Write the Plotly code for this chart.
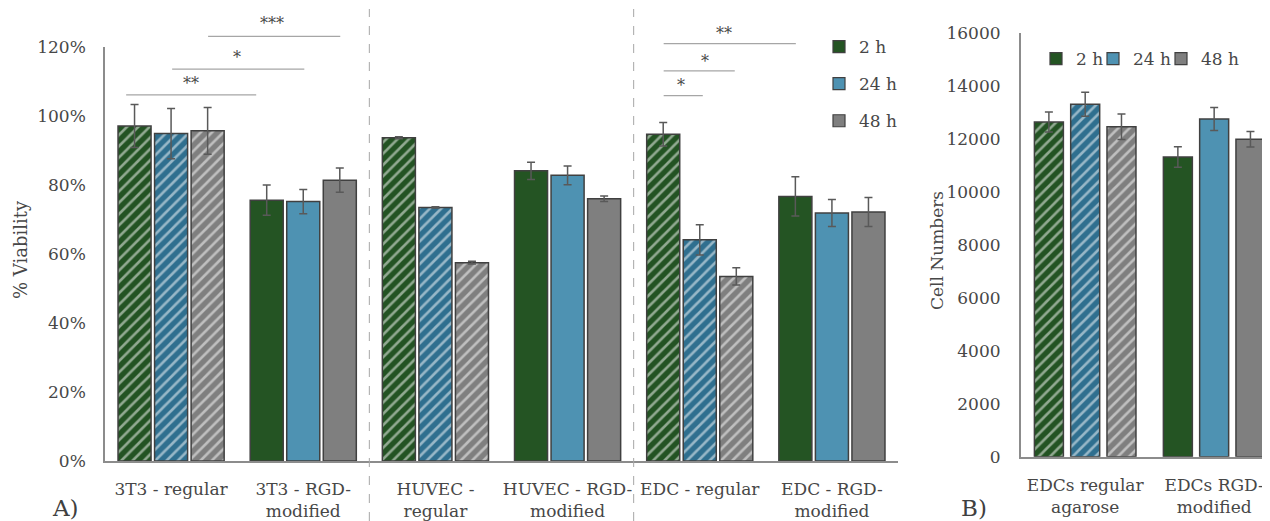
import plotly.graph_objects as go

# ---------------- data ----------------
series = ["2 h", "24 h", "48 h"]

categories_a = ["3T3 - regular", "3T3 - RGD-<br>modified", "HUVEC -<br>regular",
                "HUVEC - RGD-<br>modified", "EDC - regular", "EDC - RGD-<br>modified"]
viab_2h = [0.971, 0.756, 0.937, 0.841, 0.947, 0.767]
viab_24h = [0.949, 0.752, 0.735, 0.828, 0.641, 0.719]
viab_48h = [0.957, 0.814, 0.575, 0.760, 0.535, 0.722]
viab_err_2h = [0.062, 0.044, 0.003, 0.025, 0.034, 0.057]
viab_err_24h = [0.073, 0.035, 0.002, 0.027, 0.044, 0.039]
viab_err_48h = [0.068, 0.035, 0.004, 0.008, 0.025, 0.042]
hatched_a = [True, False, True, False, True, False]

categories_b = ["EDCs regular<br>agarose", "EDCs RGD-<br>modified"]
cells_2h = [12650, 11325]
cells_24h = [13320, 12760]
cells_48h = [12470, 11995]
cells_err_2h = [380, 390]
cells_err_24h = [450, 435]
cells_err_48h = [485, 290]
hatched_b = [True, False]

# significance brackets (x from, x to, line level, text level, text x, label)
sig_3t3 = [(-0.34, 0.644, 1.061, 1.095, 0.149, "**"),
           (0.008, 1.008, 1.136, 1.170, 0.50, "*"),
           (0.28, 1.28, 1.231, 1.269, 0.765, "***")]
sig_edc = [(3.727, 4.727, 1.2096, 1.238, 4.18, "**"),
           (3.727, 4.265, 1.131, 1.157, 4.04, "*"),
           (3.727, 4.023, 1.059, 1.087, 3.86, "*")]

# ---------------- style ----------------
FONT = "DejaVu Serif"
TXT = "#474747"
solid = ["#245423", "#4e92b2", "#7f7f7f"]
hatch_bg = ["#235323", "#2f6f8f", "#7f7f7f"]
hatch_fg = ["#478637", "#4a94b6", "#a5a5a5"]
OUTLINE = "#404040"

# the page places the figure 8 px from the top-left corner
OFF = 8
W, H = 1270 - OFF, 521 - OFF
def px_x(p):
    return (p - OFF) / W
def px_y(p):
    return (521 - p) / H

xa_dom = [px_x(105), px_x(898)]
ya_dom = [px_y(461), px_y(47)]
xb_dom = [px_x(1020.7), 1.0]
yb_dom = [px_y(456.7), px_y(33.3)]

def viab_paper(v):
    return ya_dom[0] + v / 1.2 * (ya_dom[1] - ya_dom[0])

fig = go.Figure()

vals_a = [viab_2h, viab_24h, viab_48h]
errs_a = [viab_err_2h, viab_err_24h, viab_err_48h]
vals_b = [cells_2h, cells_24h, cells_48h]
errs_b = [cells_err_2h, cells_err_24h, cells_err_48h]

wa, slot_a = 0.25, 0.2765
wb, slot_b = 0.2248, 0.2814

for i, name in enumerate(series):
    fig.add_trace(go.Bar(
        x=categories_a, y=vals_a[i], name=name, showlegend=False,
        width=wa, offset=(i - 1) * slot_a - wa / 2,
        xaxis="x", yaxis="y",
        error_y=dict(type="data", array=errs_a[i], color="#595959", thickness=1.5, width=4),
        marker=dict(
            color=[hatch_bg[i] if h else solid[i] for h in hatched_a],
            line=dict(color=OUTLINE, width=1.5),
            pattern=dict(shape=["/" if h else "" for h in hatched_a],
                         fgcolor=hatch_fg[i], size=8, solidity=0.33),
        ),
    ))
    fig.add_trace(go.Bar(
        x=categories_b, y=vals_b[i], name=name, showlegend=False,
        width=wb, offset=(i - 1) * slot_b - wb / 2,
        xaxis="x2", yaxis="y2",
        error_y=dict(type="data", array=errs_b[i], color="#595959", thickness=1.5, width=4),
        marker=dict(
            color=[hatch_bg[i] if h else solid[i] for h in hatched_b],
            line=dict(color=OUTLINE, width=1.5),
            pattern=dict(shape=["/" if h else "" for h in hatched_b],
                         fgcolor=hatch_fg[i], size=8, solidity=0.33),
        ),
    ))

# legend entries (per-entry widths for the horizontal legend)
legend2_widths = [12, 23, 40]
for i, name in enumerate(series):
    fig.add_trace(go.Scatter(
        x=[None], y=[None], mode="markers", name=name, legend="legend",
        legendgroup="a" + name,
        marker=dict(symbol="square", size=12, color=solid[i],
                    line=dict(color=OUTLINE, width=1.2)),
        xaxis="x", yaxis="y", hoverinfo="skip",
    ))
for i, name in enumerate(series):
    fig.add_trace(go.Scatter(
        x=[None], y=[None], mode="markers", name=name, legend="legend2",
        legendwidth=legend2_widths[i],
        marker=dict(symbol="square", size=12, color=solid[i],
                    line=dict(color=OUTLINE, width=1.2)),
        xaxis="x2", yaxis="y2", hoverinfo="skip",
    ))

shapes = []
annotations = []
for x0, x1, yl, yt, xt, lab in sig_3t3 + sig_edc:
    shapes.append(dict(type="line", xref="x", yref="paper", x0=x0, x1=x1,
                       y0=viab_paper(yl), y1=viab_paper(yl),
                       line=dict(color="#a6a6a6", width=1.2)))
    annotations.append(dict(text=lab, xref="x", yref="paper", x=xt, y=viab_paper(yt),
                            xanchor="center", yanchor="middle",
                            showarrow=False, font=dict(family=FONT, size=16, color=TXT)))

for xs in [1.5, 3.5]:
    shapes.append(dict(type="line", xref="x", yref="paper", x0=xs, x1=xs,
                       y0=0, y1=px_y(9), line=dict(color="#a6a6a6", width=1, dash="dash")))

annotations += [
    dict(text="% Viability", xref="paper", yref="paper", x=px_x(20), y=px_y(250),
         xanchor="center", yanchor="middle",
         textangle=-90, showarrow=False, font=dict(family=FONT, size=18, color=TXT)),
    dict(text="Cell Numbers", xref="paper", yref="paper", x=px_x(937), y=px_y(250),
         xanchor="center", yanchor="middle",
         textangle=-90, showarrow=False, font=dict(family=FONT, size=17, color=TXT)),
    dict(text="A)", xref="paper", yref="paper", x=px_x(65), y=px_y(508),
         xanchor="center", yanchor="middle",
         showarrow=False, font=dict(family=FONT, size=23, color="#404040")),
    dict(text="B)", xref="paper", yref="paper", x=px_x(974), y=px_y(508),
         xanchor="center", yanchor="middle",
         showarrow=False, font=dict(family=FONT, size=23, color="#404040")),
]

axis_common = dict(showgrid=False, zeroline=False, showline=True, linecolor="#8c8c8c",
                   linewidth=1.5, ticks="", automargin=False,
                   tickfont=dict(family=FONT, size=17, color=TXT))

fig.update_layout(
    width=W, height=H, autosize=False,
    margin=dict(l=0, r=0, t=0, b=0, autoexpand=False),
    paper_bgcolor="white", plot_bgcolor="white",
    font=dict(family=FONT, color=TXT, size=17),
    barmode="group",
    xaxis=dict(domain=xa_dom, anchor="y", type="category", range=[-0.5, 5.5],
               ticklabelstandoff=12, **axis_common),
    yaxis=dict(domain=ya_dom, anchor="x", range=[0, 1.2], dtick=0.2, tickformat=".0%",
               ticklabelstandoff=14, **axis_common),
    xaxis2=dict(domain=xb_dom, anchor="y2", type="category", range=[-0.5, 1.433],
                ticklabelstandoff=12, **axis_common),
    yaxis2=dict(domain=yb_dom, anchor="x2", range=[0, 16000], dtick=2000, tickformat="d",
                ticklabelstandoff=15, **axis_common),
    legend=dict(x=px_x(819), y=px_y(29), xanchor="left", yanchor="top",
                orientation="v", tracegroupgap=12, bgcolor="rgba(0,0,0,0)",
                font=dict(family=FONT, size=17, color=TXT)),
    legend2=dict(x=px_x(1036), y=px_y(59), xanchor="left", yanchor="middle",
                 orientation="h", bgcolor="rgba(0,0,0,0)",
                 font=dict(family=FONT, size=17, color=TXT)),
    shapes=shapes, annotations=annotations,
)

fig.write_html("out.html")
